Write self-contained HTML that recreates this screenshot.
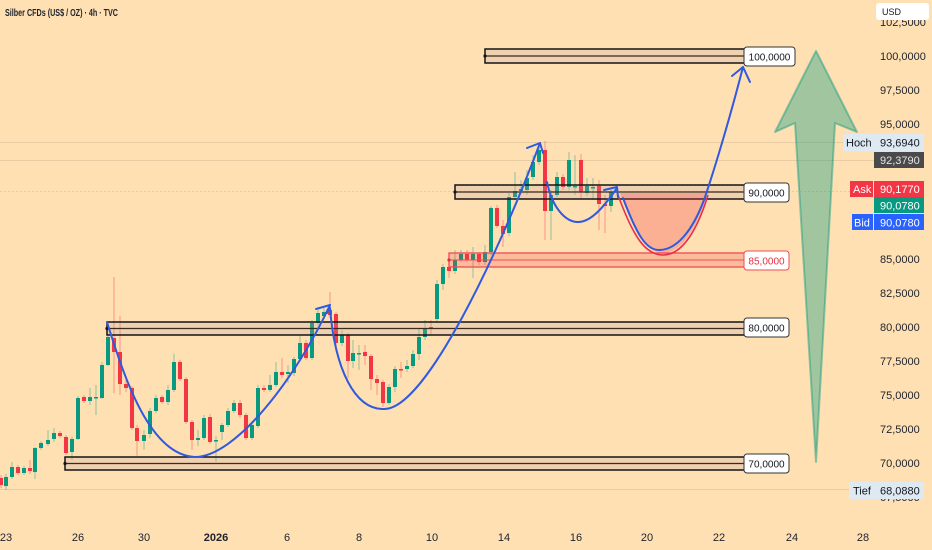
<!DOCTYPE html>
<html><head><meta charset="utf-8"><style>
html,body{margin:0;padding:0;background:#ffe0b2;}
svg{display:block;font-family:"Liberation Sans",sans-serif;}
</style></head><body>
<svg width="932" height="550" viewBox="0 0 932 550" xmlns="http://www.w3.org/2000/svg">
<rect width="932" height="550" fill="#ffe0b2"/>
<!-- faint horizontal lines -->
<g stroke="#000" stroke-opacity="0.09" stroke-width="1">
<line x1="0" y1="142.5" x2="843" y2="142.5"/>
<line x1="0" y1="160.5" x2="874" y2="160.5"/>
<line x1="0" y1="191.5" x2="850" y2="191.5" stroke-dasharray="2 2"/>
<line x1="0" y1="489.5" x2="849" y2="489.5"/>
</g>
<text x="5" y="16" font-size="10" font-weight="bold" fill="#1e222d" textLength="113" lengthAdjust="spacingAndGlyphs">Silber CFDs (US$ / OZ) · 4h · TVC</text>

<!-- wicks -->
<g stroke="#089981" stroke-opacity="0.45" stroke-width="1">
<line x1="6" y1="474" x2="6" y2="490"/><line x1="12" y1="462" x2="12" y2="479"/><line x1="24" y1="466" x2="24" y2="475"/><line x1="35" y1="447" x2="35" y2="479"/><line x1="41" y1="441" x2="41" y2="450"/><line x1="48" y1="430" x2="48" y2="446"/><line x1="54" y1="428" x2="54" y2="442"/><line x1="72" y1="437" x2="72" y2="460"/><line x1="78" y1="396" x2="78" y2="440"/><line x1="90" y1="388" x2="90" y2="405"/><line x1="96" y1="385" x2="96" y2="415"/><line x1="102" y1="362" x2="102" y2="399"/><line x1="108" y1="335" x2="108" y2="366"/><line x1="144" y1="430" x2="144" y2="450"/><line x1="150" y1="408" x2="150" y2="438"/><line x1="156" y1="395" x2="156" y2="413"/><line x1="168" y1="385" x2="168" y2="405"/><line x1="174" y1="354" x2="174" y2="392"/><line x1="198" y1="430" x2="198" y2="446"/><line x1="204" y1="415" x2="204" y2="440"/><line x1="216" y1="436" x2="216" y2="462"/><line x1="222" y1="423" x2="222" y2="440"/><line x1="228" y1="408" x2="228" y2="427"/><line x1="234" y1="400" x2="234" y2="413"/><line x1="252" y1="422" x2="252" y2="440"/><line x1="258" y1="385" x2="258" y2="428"/><line x1="270" y1="375" x2="270" y2="392"/><line x1="276" y1="362" x2="276" y2="387"/><line x1="288" y1="365" x2="288" y2="383"/><line x1="294" y1="357" x2="294" y2="376"/><line x1="300" y1="336" x2="300" y2="361"/><line x1="312" y1="320" x2="312" y2="360"/><line x1="318" y1="310" x2="318" y2="325"/><line x1="324" y1="308" x2="324" y2="318"/><line x1="342" y1="330" x2="342" y2="346"/><line x1="353" y1="340" x2="353" y2="368"/><line x1="359" y1="345" x2="359" y2="370"/><line x1="389" y1="384" x2="389" y2="405"/><line x1="395" y1="366" x2="395" y2="392"/><line x1="407" y1="360" x2="407" y2="372"/><line x1="413" y1="350" x2="413" y2="368"/><line x1="419" y1="328" x2="419" y2="360"/><line x1="425" y1="320" x2="425" y2="340"/><line x1="437" y1="280" x2="437" y2="322"/><line x1="443" y1="264" x2="443" y2="290"/><line x1="455" y1="250" x2="455" y2="274"/><line x1="461" y1="250" x2="461" y2="262"/><line x1="473" y1="247" x2="473" y2="278"/><line x1="485" y1="245" x2="485" y2="265"/><line x1="491" y1="206" x2="491" y2="255"/><line x1="509" y1="193" x2="509" y2="236"/><line x1="515" y1="172" x2="515" y2="200"/><line x1="521" y1="180" x2="521" y2="194"/><line x1="527" y1="170" x2="527" y2="195"/><line x1="533" y1="155" x2="533" y2="180"/><line x1="539" y1="147" x2="539" y2="165"/><line x1="551" y1="190" x2="551" y2="240"/><line x1="557" y1="172" x2="557" y2="197"/><line x1="569" y1="152" x2="569" y2="190"/><line x1="575" y1="155" x2="575" y2="195"/><line x1="587" y1="178" x2="587" y2="196"/><line x1="593" y1="178" x2="593" y2="200"/><line x1="611" y1="187" x2="611" y2="212"/>
</g>
<g stroke="#f23645" stroke-opacity="0.45" stroke-width="1">
<line x1="1" y1="475" x2="1" y2="488"/><line x1="18" y1="465" x2="18" y2="475"/><line x1="30" y1="460" x2="30" y2="474"/><line x1="60" y1="431" x2="60" y2="438"/><line x1="66" y1="435" x2="66" y2="455"/><line x1="84" y1="395" x2="84" y2="403"/><line x1="114" y1="277" x2="114" y2="393"/><line x1="120" y1="316" x2="120" y2="395"/><line x1="126" y1="380" x2="126" y2="392"/><line x1="132" y1="386" x2="132" y2="430"/><line x1="137" y1="425" x2="137" y2="456"/><line x1="162" y1="395" x2="162" y2="404"/><line x1="180" y1="360" x2="180" y2="381"/><line x1="186" y1="377" x2="186" y2="424"/><line x1="192" y1="420" x2="192" y2="450"/><line x1="210" y1="414" x2="210" y2="444"/><line x1="240" y1="400" x2="240" y2="418"/><line x1="246" y1="413" x2="246" y2="440"/><line x1="264" y1="385" x2="264" y2="392"/><line x1="282" y1="358" x2="282" y2="378"/><line x1="306" y1="340" x2="306" y2="360"/><line x1="330" y1="292" x2="330" y2="318"/><line x1="336" y1="312" x2="336" y2="345"/><line x1="348" y1="333" x2="348" y2="378"/><line x1="365" y1="345" x2="365" y2="365"/><line x1="371" y1="354" x2="371" y2="390"/><line x1="377" y1="375" x2="377" y2="395"/><line x1="383" y1="380" x2="383" y2="407"/><line x1="401" y1="362" x2="401" y2="378"/><line x1="431" y1="320" x2="431" y2="335"/><line x1="449" y1="262" x2="449" y2="278"/><line x1="467" y1="250" x2="467" y2="262"/><line x1="479" y1="252" x2="479" y2="265"/><line x1="497" y1="205" x2="497" y2="228"/><line x1="503" y1="220" x2="503" y2="247"/><line x1="545" y1="141" x2="545" y2="240"/><line x1="563" y1="174" x2="563" y2="190"/><line x1="581" y1="154" x2="581" y2="198"/><line x1="599" y1="180" x2="599" y2="230"/><line x1="605" y1="195" x2="605" y2="233"/>
</g>
<!-- bodies -->
<g fill="#089981">
<rect x="4" y="477" width="4" height="9"/><rect x="10" y="467" width="4" height="10"/><rect x="22" y="468" width="4" height="5"/><rect x="33" y="448" width="4" height="24"/><rect x="39" y="443" width="4" height="5"/><rect x="46" y="440" width="4" height="4"/><rect x="52" y="433" width="4" height="6"/><rect x="70" y="439" width="4" height="13"/><rect x="76" y="398" width="4" height="41"/><rect x="88" y="397" width="4" height="4"/><rect x="94" y="397" width="4" height="1.5"/><rect x="100" y="365" width="4" height="33"/><rect x="106" y="337" width="4" height="28"/><rect x="142" y="435" width="4" height="6"/><rect x="148" y="411" width="4" height="23"/><rect x="154" y="398" width="4" height="13"/><rect x="166" y="390" width="4" height="12"/><rect x="172" y="362" width="4" height="28"/><rect x="196" y="438" width="4" height="2"/><rect x="202" y="418" width="4" height="20"/><rect x="214" y="440" width="4" height="1.5"/><rect x="220" y="425" width="4" height="7"/><rect x="226" y="411" width="4" height="14"/><rect x="232" y="403" width="4" height="8"/><rect x="250" y="425" width="4" height="13"/><rect x="256" y="388" width="4" height="38"/><rect x="268" y="385" width="4" height="5"/><rect x="274" y="372" width="4" height="13"/><rect x="286" y="372" width="4" height="2"/><rect x="292" y="359" width="4" height="14"/><rect x="298" y="343" width="4" height="16"/><rect x="310" y="323" width="4" height="35"/><rect x="316" y="313" width="4" height="10"/><rect x="322" y="312" width="4" height="4"/><rect x="340" y="335" width="4" height="8"/><rect x="351" y="353" width="4" height="8"/><rect x="357" y="353" width="4" height="1.5"/><rect x="387" y="387" width="4" height="16"/><rect x="393" y="369" width="4" height="18"/><rect x="405" y="366" width="4" height="3"/><rect x="411" y="354" width="4" height="12"/><rect x="417" y="337" width="4" height="17"/><rect x="423" y="329" width="4" height="8"/><rect x="435" y="284" width="4" height="35"/><rect x="441" y="267" width="4" height="17"/><rect x="453" y="260" width="4" height="11"/><rect x="459" y="254" width="4" height="6"/><rect x="471" y="254" width="4" height="6"/><rect x="483" y="252" width="4" height="10"/><rect x="489" y="208" width="4" height="44"/><rect x="507" y="197" width="4" height="36"/><rect x="513" y="191" width="4" height="6"/><rect x="519" y="189" width="4" height="2"/><rect x="525" y="178" width="4" height="12"/><rect x="531" y="162" width="4" height="15"/><rect x="537" y="150" width="4" height="12"/><rect x="549" y="195" width="4" height="16"/><rect x="555" y="177" width="4" height="18"/><rect x="567" y="160" width="4" height="27"/><rect x="573" y="186" width="4" height="1.5"/><rect x="585" y="186" width="4" height="7"/><rect x="591" y="187" width="4" height="1.5"/><rect x="609" y="192" width="4" height="14"/>
</g>
<g fill="#f23645">
<rect x="-1" y="478" width="4" height="7"/><rect x="16" y="467" width="4" height="6"/><rect x="28" y="468" width="4" height="3"/><rect x="58" y="433" width="4" height="3"/><rect x="64" y="437" width="4" height="16"/><rect x="82" y="397" width="4" height="4"/><rect x="112" y="338" width="4" height="14"/><rect x="118" y="352" width="4" height="32"/><rect x="124" y="384" width="4" height="4"/><rect x="130" y="388" width="4" height="40"/><rect x="135" y="428" width="4" height="13"/><rect x="160" y="397" width="4" height="5"/><rect x="178" y="362" width="4" height="17"/><rect x="184" y="379" width="4" height="43"/><rect x="190" y="422" width="4" height="18"/><rect x="208" y="417" width="4" height="25"/><rect x="238" y="403" width="4" height="12"/><rect x="244" y="415" width="4" height="23"/><rect x="262" y="388" width="4" height="2"/><rect x="280" y="372" width="4" height="3"/><rect x="304" y="343" width="4" height="15"/><rect x="328" y="310" width="4" height="5"/><rect x="334" y="314" width="4" height="29"/><rect x="346" y="335" width="4" height="26"/><rect x="363" y="352" width="4" height="4"/><rect x="369" y="356" width="4" height="23"/><rect x="375" y="379" width="4" height="4"/><rect x="381" y="382" width="4" height="21"/><rect x="399" y="369" width="4" height="1.5"/><rect x="429" y="327" width="4" height="2"/><rect x="447" y="267" width="4" height="4"/><rect x="465" y="254" width="4" height="6"/><rect x="477" y="254" width="4" height="8"/><rect x="495" y="208" width="4" height="18"/><rect x="501" y="226" width="4" height="8"/><rect x="543" y="150" width="4" height="61"/><rect x="561" y="177" width="4" height="10"/><rect x="579" y="160" width="4" height="32"/><rect x="597" y="186" width="4" height="18"/><rect x="603" y="204" width="4" height="2"/>
</g>

<!-- level boxes -->
<g fill="rgba(180,150,170,0.22)" stroke="#141414" stroke-width="1.5">
<rect x="485" y="49" width="260" height="14"/>
<rect x="455" y="185" width="290" height="14"/>
<rect x="107" y="322" width="638" height="13"/>
<rect x="65" y="457" width="680" height="13"/>
</g>
<g stroke="#3a2a18" stroke-width="1.3">
<line x1="485" y1="56" x2="745" y2="56"/>
<line x1="455" y1="192" x2="745" y2="192"/>
<line x1="107" y1="328.5" x2="745" y2="328.5"/>
<line x1="65" y1="463.5" x2="745" y2="463.5"/>
</g>
<g fill="#141414"><circle cx="485" cy="56" r="1.6"/><circle cx="455" cy="192" r="1.6"/><circle cx="107" cy="328.5" r="1.6"/><circle cx="65" cy="463.5" r="1.6"/></g>
<rect x="449" y="253" width="296" height="14" fill="rgba(242,54,69,0.22)" stroke="#ef4b55" stroke-width="1.3"/>
<line x1="449" y1="260" x2="745" y2="260" stroke="#ef4b55" stroke-width="1"/>
<circle cx="449" cy="260" r="1.6" fill="#e0303d"/>

<!-- red bowl -->
<path d="M620,193 C 635,232 645,253 663,253 C 683,253 698,225 708,193 Z" fill="rgba(242,54,69,0.28)"/>
<path d="M618,195 C 633,236 645,255 663,255 C 683,255 698,228 708,195" fill="none" stroke="#e8304a" stroke-width="1.6"/>

<!-- blue curves -->
<g fill="none" stroke="#2f5ae0" stroke-width="2" stroke-linecap="round" stroke-linejoin="round">
<path d="M107,322 C 125,380 150,455 195,457 C 235,457 295,380 330,305"/>
<path d="M316,309 L330,305 L327,313"/>
<path d="M330,308 C 335,370 355,409 383,409 C 425,412 500,250 540,143"/>
<path d="M527,148 L540,143 L543,153"/>
<path d="M547,182 C 552,207 565,222 578,222 C 592,222 605,205 617,188"/>
<path d="M604,190 L617,187 L618,197"/>
<path d="M623,198 C 637,235 646,250 659,250 C 676,250 692,232 704,200 C 716,165 732,110 743,67"/>
<path d="M732,76 L743,67 L750,82"/>
</g>

<!-- level labels -->
<g font-size="10" fill="#131722" text-anchor="middle">
<rect x="744" y="47" width="51" height="19" rx="3" fill="#fff" stroke="#333" stroke-width="1"/>
<text x="769.5" y="60.5">100,0000</text>
<rect x="744" y="183" width="45" height="19" rx="3" fill="#fff" stroke="#333" stroke-width="1"/>
<text x="766.5" y="196.5">90,0000</text>
<rect x="744" y="251" width="45" height="19" rx="3" fill="#fff" stroke="#ef4b55" stroke-width="1"/>
<text x="766.5" y="264.5" fill="#e8303f">85,0000</text>
<rect x="744" y="318" width="45" height="19" rx="3" fill="#fff" stroke="#333" stroke-width="1"/>
<text x="766.5" y="331.5">80,0000</text>
<rect x="744" y="454" width="45" height="19" rx="3" fill="#fff" stroke="#333" stroke-width="1"/>
<text x="766.5" y="467.5">70,0000</text>
</g>

<!-- big green arrow -->
<polygon points="816,51 857,132 835,123 816,462 795,123 775,132" fill="rgba(8,153,129,0.38)" stroke="rgba(8,153,129,0.45)" stroke-width="2" stroke-linejoin="round"/>

<!-- right axis labels -->
<g font-size="11" fill="#1e222d">
<text x="880" y="26">102,5000</text>
<text x="880" y="60">100,0000</text>
<text x="880" y="94">97,5000</text>
<text x="880" y="128">95,0000</text>
<text x="880" y="263">85,0000</text>
<text x="880" y="297">82,5000</text>
<text x="880" y="331">80,0000</text>
<text x="880" y="365">77,5000</text>
<text x="880" y="399">75,0000</text>
<text x="880" y="433">72,5000</text>
<text x="880" y="467">70,0000</text>
<text x="880" y="501">67,5000</text>
</g>
<rect x="876" y="3" width="53" height="17" rx="3" fill="#fff"/>
<text x="882" y="15" font-size="9" fill="#131722">USD</text>

<!-- price tags -->
<rect x="843" y="134" width="81" height="17" fill="#dfe9f2"/>
<text x="846" y="146.5" font-size="11" fill="#131722">Hoch</text>
<text x="880" y="146.5" font-size="11" fill="#131722">93,6940</text>
<rect x="874" y="152" width="50" height="16" fill="#4a4a4a"/>
<text x="880" y="164" font-size="11" fill="#e6e6e6">92,3790</text>
<rect x="850" y="181" width="23" height="16" fill="#f23645"/>
<text x="853" y="193" font-size="11" fill="#fff">Ask</text>
<rect x="874" y="181" width="50" height="16" fill="#f23645"/>
<text x="880" y="193" font-size="11" fill="#fff">90,1770</text>
<rect x="874" y="197" width="50" height="16" fill="#089981"/>
<text x="880" y="209.5" font-size="11" fill="#fff">90,0780</text>
<rect x="852" y="214" width="21" height="16" fill="#2962ff"/>
<text x="854" y="226.5" font-size="11" fill="#fff">Bid</text>
<rect x="874" y="214" width="50" height="16" fill="#2962ff"/>
<text x="880" y="226.5" font-size="11" fill="#fff">90,0780</text>
<rect x="849" y="482" width="75" height="17" fill="#dfe9f2"/>
<text x="853" y="494.5" font-size="11" fill="#131722">Tief</text>
<text x="880" y="494.5" font-size="11" fill="#131722">68,0880</text>

<!-- bottom axis -->
<g font-size="11" fill="#1e222d" text-anchor="middle">
<text x="6" y="541">23</text>
<text x="78" y="541">26</text>
<text x="144" y="541">30</text>
<text x="216" y="541" font-weight="bold">2026</text>
<text x="287" y="541">6</text>
<text x="359" y="541">8</text>
<text x="432" y="541">10</text>
<text x="504" y="541">14</text>
<text x="576" y="541">16</text>
<text x="647" y="541">20</text>
<text x="719" y="541">22</text>
<text x="792" y="541">24</text>
<text x="863" y="541">28</text>
</g>
</svg>
</body></html>
